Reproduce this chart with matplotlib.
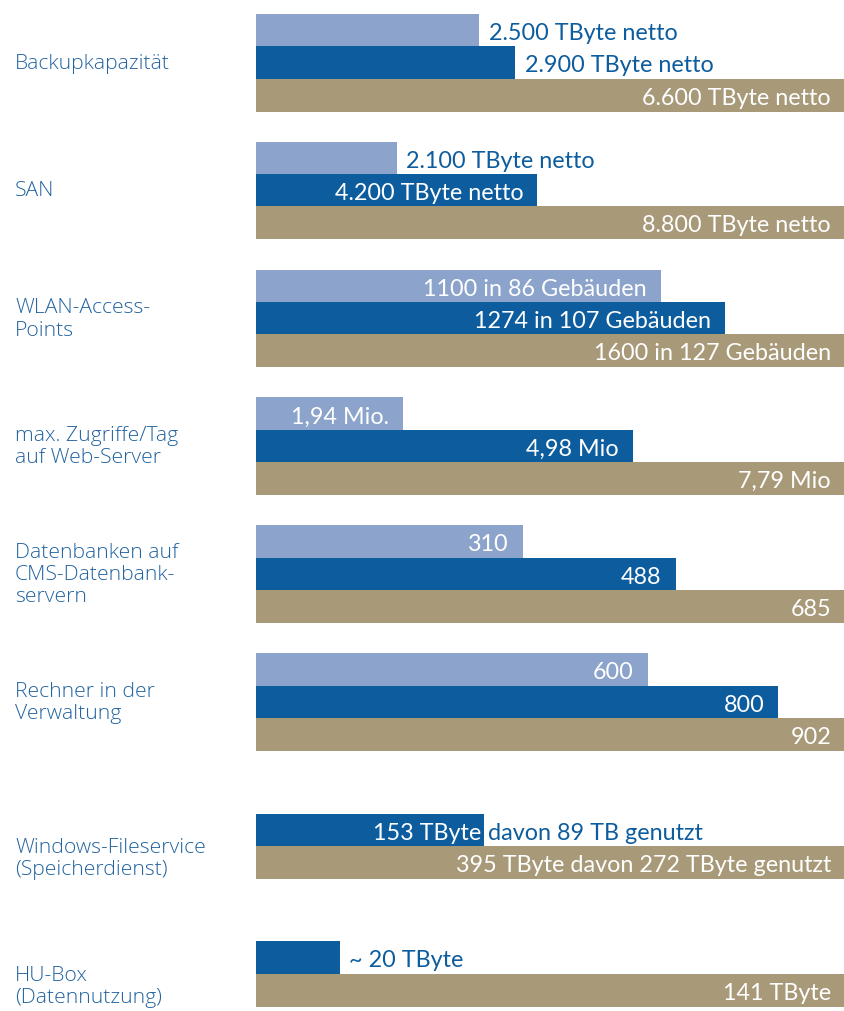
import matplotlib
matplotlib.use("Agg")
import matplotlib.pyplot as plt

plt.rcParams['font.family'] = ['Lato', 'DejaVu Sans']

# Kennzahlen je Dienst: Vorjahr (hellblau), aktuell (dunkelblau), Kapazität/Ziel (sand)
categories = [
    "Backupkapazität",
    "SAN",
    "WLAN-Access-\nPoints",
    "max. Zugriffe/Tag\nauf Web-Server",
    "Datenbanken auf\nCMS-Datenbank-\nservern",
    "Rechner in der\nVerwaltung",
    "Windows-Fileservice\n(Speicherdienst)",
    "HU-Box\n(Datennutzung)",
]
light_vals = [2500, 2100, 1100, 1.94, 310, 600, None, None]
dark_vals = [2900, 4200, 1274, 4.98, 488, 800, 153, 20]
tan_vals = [6600, 8800, 1600, 7.79, 685, 902, 395, 141]

light_labels = ["2.500 TByte netto", "2.100 TByte netto", "1100 in 86 Gebäuden",
                "1,94 Mio.", "310", "600", None, None]
dark_labels = ["2.900 TByte netto", "4.200 TByte netto", "1274 in 107 Gebäuden",
               "4,98 Mio", "488", "800", "153 TByte", "~ 20 TByte"]
dark_notes = [None, None, None, None, None, None, "davon 89 TB genutzt", None]
tan_labels = ["6.600 TByte netto", "8.800 TByte netto", "1600 in 127 Gebäuden",
              "7,79 Mio", "685", "902", "395 TByte davon 272 TByte genutzt", "141 TByte"]

LIGHT = "#8ca4cb"
DARK = "#0d5d9e"
TAN = "#a89979"
TEXT = "#2263a0"

W, H = 845, 1012
TOP, PITCH, BAR_H = 15, 127.9, 32.4
FS = 16.8
# Beschriftungen, die rechts neben dem Balken stehen: (gruppe, zeile)
outside = {(0, 0), (0, 1), (1, 0), (7, 1)}

fig = plt.figure(figsize=(W / 100, H / 100), dpi=100)
ax = fig.add_axes([256 / W, 0, 1 - 256 / W, 1])
ax.set_xlim(0, 1)
ax.set_ylim(H, 0)
ax.axis("off")

for g, name in enumerate(categories):
    scale = tan_vals[g]
    rows = [(light_vals[g], light_labels[g], LIGHT),
            (dark_vals[g], dark_labels[g], DARK),
            (tan_vals[g], tan_labels[g], TAN)]
    used = []
    for r, (val, lab, col) in enumerate(rows):
        if val is None:
            continue
        y = TOP + PITCH * g + BAR_H * (r + 0.5)
        used.append(y)
        w = val / scale
        ax.barh(y, w, height=BAR_H + 0.6, left=0, color=col, linewidth=0)
        if (g, r) in outside:
            ax.annotate(lab, (w, y), xytext=(7, -1.5), textcoords="offset points",
                        ha="left", va="center", fontsize=FS, color=DARK)
        else:
            pad = -2 if (r == 1 and dark_notes[g]) else -10
            ax.annotate(lab, (w, y), xytext=(pad, -1.5), textcoords="offset points",
                        ha="right", va="center", fontsize=FS, color="white")
            if r == 1 and dark_notes[g]:
                ax.annotate(dark_notes[g], (w, y), xytext=(3, -1.5), textcoords="offset points",
                            ha="left", va="center", fontsize=FS, color=DARK)
    yc = (min(used) + max(used)) / 2
    if light_vals[g] is None:
        yc += 12
    fig.text(15 / W, 1 - yc / H, name, ha="left", va="center", fontsize=15.2,
             family=["Open Sans", "Lato"], fontweight="light", color=TEXT,
             linespacing=1.15)

fig.savefig("out.png", dpi=100)
